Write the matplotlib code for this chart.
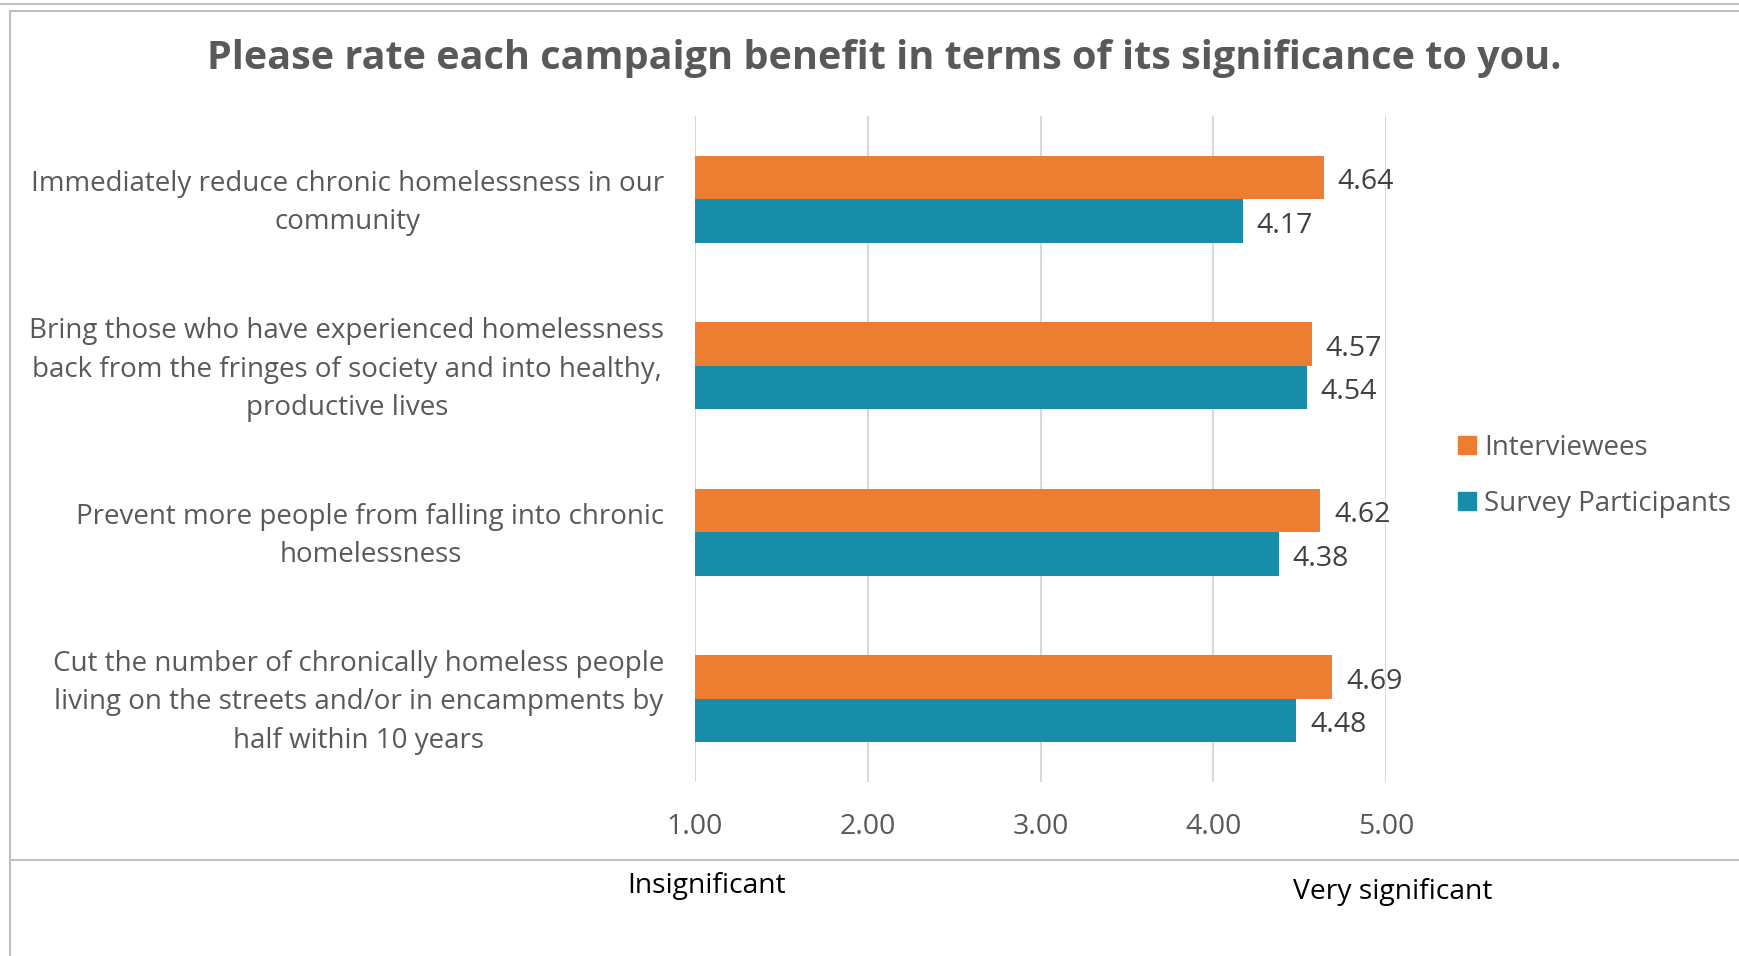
import matplotlib.pyplot as plt
from matplotlib.lines import Line2D
import matplotlib.transforms as mtransforms
import numpy as np

plt.rcParams['font.family'] = ['Open Sans', 'DejaVu Sans']

categories = [
    "Immediately reduce chronic homelessness in our\ncommunity",
    "Bring those who have experienced homelessness\nback from the fringes of society and into healthy,\nproductive lives",
    "Prevent more people from falling into chronic\nhomelessness",
    "Cut the number of chronically homeless people\nliving on the streets and/or in encampments by\nhalf within 10 years",
]
interviewees = [4.64, 4.57, 4.62, 4.69]
survey = [4.17, 4.54, 4.38, 4.48]
xticks = [1.0, 2.0, 3.0, 4.0, 5.0]

orange = "#ED7D31"
teal = "#188DAA"
grey_text = "#595959"

W, H = 1739, 956
fig = plt.figure(figsize=(W / 100, H / 100), dpi=100)
ax = fig.add_axes([695 / W, 1 - 782 / H, (1386 - 695) / W, (782 - 116) / H])

y = np.arange(len(categories))
bh = 0.26
ax.barh(y - bh / 2, np.array(interviewees) - 1, left=1, height=bh, color=orange, label="Interviewees", zorder=3)
ax.barh(y + bh / 2, np.array(survey) - 1, left=1, height=bh, color=teal, label="Survey Participants", zorder=3)

for yy, v in zip(y - bh / 2, interviewees):
    ax.annotate(f"{v:.2f}", (v, yy), xytext=(10, -1), textcoords="offset points",
                va="center_baseline", ha="left", fontsize=20.5, color="#404040")
for yy, v in zip(y + bh / 2, survey):
    ax.annotate(f"{v:.2f}", (v, yy), xytext=(10, -1), textcoords="offset points",
                va="center_baseline", ha="left", fontsize=20.5, color="#404040")

ax.set_xlim(1, 5)
ax.set_ylim(3.5, -0.5)
ax.set_xticks(xticks)
ax.set_xticklabels([f"{t:.2f}" for t in xticks], fontsize=20.5, color=grey_text)
ax.set_yticks(y)
ax.set_yticklabels(categories, fontsize=20, color=grey_text, multialignment="center", linespacing=1.5)
ax.tick_params(axis="both", length=0)
ax.tick_params(axis="y", pad=22)
ax.tick_params(axis="x", pad=22)
ax.xaxis.grid(True, color="#D9D9D9", linewidth=1.5, zorder=0)
for s in ax.spines.values():
    s.set_visible(False)

# labels sit a little above the bar pair centre in the original
up = mtransforms.ScaledTranslation(0, 5 / 100, fig.dpi_scale_trans)
for lab in ax.get_yticklabels():
    lab.set_transform(lab.get_transform() + up)

fig.text(884 / W, 1 - 58 / H, "Please rate each campaign benefit in terms of its significance to you.",
         ha="center", va="center", fontsize=28.5, fontweight="bold", color=grey_text)

handles = [Line2D([], [], marker="s", linestyle="none", markersize=13, color=orange),
           Line2D([], [], marker="s", linestyle="none", markersize=13, color=teal)]
fig.legend(handles, ["Interviewees", "Survey Participants"], loc="center left",
           bbox_to_anchor=(1427 / W, 1 - 476 / H), frameon=False, fontsize=20,
           labelcolor=grey_text, handletextpad=0.05, labelspacing=1.0, handlelength=1.1)

fig.text(707 / W, 1 - 886 / H, "Insignificant", ha="center", va="center", fontsize=20.3, color="black")
fig.text(1393 / W, 1 - 892 / H, "Very significant", ha="center", va="center", fontsize=20.3, color="black")

# frame lines
frame = "#BFBFBF"
fig.add_artist(Line2D([0, 1], [1 - 4 / H, 1 - 4 / H], color=frame, linewidth=1.5))
fig.add_artist(Line2D([10 / W, 1], [1 - 11 / H, 1 - 11 / H], color=frame, linewidth=1.5))
fig.add_artist(Line2D([10 / W, 10 / W], [0, 1 - 11 / H], color=frame, linewidth=1.5))
fig.add_artist(Line2D([10 / W, 1], [1 - 860 / H, 1 - 860 / H], color=frame, linewidth=1.5))

fig.savefig("out.png", dpi=100)
